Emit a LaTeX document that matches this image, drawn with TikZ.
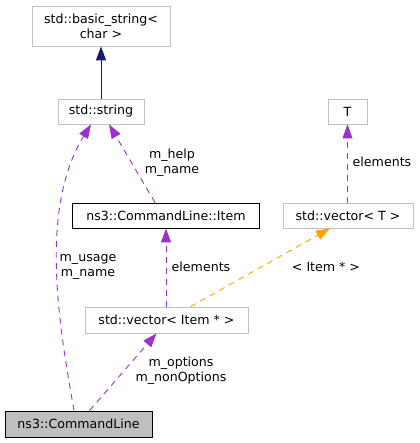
\documentclass[tikz,border=0pt]{standalone}
\usepackage{fontspec}
\setmainfont{DejaVu Sans}
\usetikzlibrary{arrows.meta}
\definecolor{edgepurple}{HTML}{9A32CD}
\definecolor{edgeorange}{HTML}{FFA500}
\definecolor{edgenavy}{HTML}{191970}
\definecolor{boxgray}{HTML}{BFBFBF}
\begin{document}
\begin{tikzpicture}[x=1pt,y=-1pt,
  font=\fontsize{12.6}{15}\selectfont,
  cls/.style={draw=boxgray,line width=0.8pt,fill=white,inner sep=0pt,align=center},
  clsb/.style={draw=black,line width=0.9pt,inner sep=0pt,align=center},
  lbl/.style={inner sep=0pt,align=center},
  tip/.style={-{Triangle[length=14pt,width=10pt]}},
  usage/.style={tip,draw=edgepurple,line width=0.9pt,dash pattern=on 6pt off 5pt},
  templ/.style={tip,draw=edgeorange,line width=0.9pt,dash pattern=on 6pt off 5pt},
  inh/.style={tip,draw=edgenavy,line width=0.9pt}]
\useasboundingbox (0,0) rectangle (419,443);
\node[cls,minimum width=138pt,minimum height=40pt] (bs) at (101,26) {std::basic\_string<\\char >};
\node[cls,minimum width=86pt,minimum height=25pt] (str) at (101,111.5) {std::string};
\node[cls,minimum width=39pt,minimum height=25pt] (T) at (347.5,111.5) {T};
\node[cls,minimum width=130pt,minimum height=25pt] (vecT) at (348,215.5) {std::vector< T >};
\node[clsb,minimum width=187pt,minimum height=25pt] (item) at (166,215.5) {ns3::CommandLine::Item};
\node[cls,minimum width=163pt,minimum height=26pt] (vecI) at (166.5,320) {std::vector< Item * >};
\node[clsb,fill=boxgray,minimum width=147pt,minimum height=26pt] (cl) at (78.5,424) {ns3::CommandLine};

\draw[inh] (str.north) -- (bs.south);
\draw[usage] ([xshift=-11pt]item.north) -- ([xshift=8pt]str.south);
\draw[usage] ([xshift=-4.5pt]cl.north) .. controls (60,330) and (38,210) .. ([xshift=-10pt]str.south);
\draw[usage] (vecI.north -| item.north) -- (item.south);
\draw[templ] ([xshift=24pt]vecI.north) -- ([xshift=-18pt]vecT.south);
\draw[usage] (vecT.north -| T.south) -- (T.south);
\draw[usage] ([xshift=11pt]cl.north) -- ([xshift=-10pt]vecI.south);

\node[lbl] (l1) at (172,163) {m\_help\\m\_name};
\node[lbl] (l2) at (88,266.5) {m\_usage\\m\_name};
\node[lbl] (l3) at (201,267) {elements};
\node[lbl] (l4) at (326,267) {< Item * >};
\node[lbl] (l5) at (382,162) {elements};
\node[lbl] (l6) at (181,371) {m\_options\\m\_nonOptions};
\end{tikzpicture}
\end{document}
